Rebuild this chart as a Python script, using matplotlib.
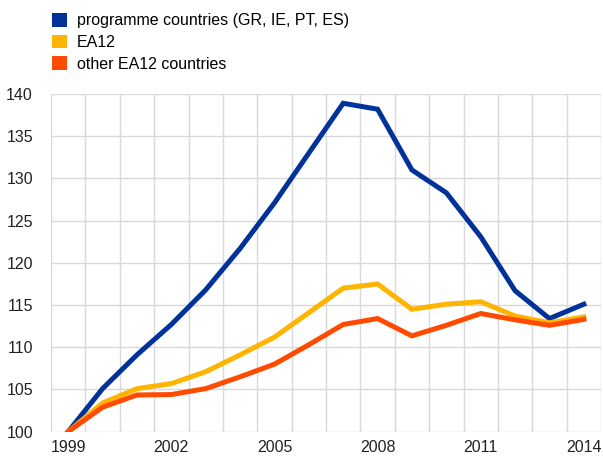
import matplotlib
matplotlib.use("Agg")
import matplotlib.pyplot as plt
from matplotlib.patches import Patch
import numpy as np

plt.rcParams['font.family'] = ['Liberation Sans', 'DejaVu Sans']

years = list(range(1999, 2015))
programme = [100.0, 105.1, 109.1, 112.7, 116.8, 121.7, 127.1, 133.0, 138.9, 138.2,
             131.0, 128.3, 123.1, 116.7, 113.4, 115.1]
ea12 = [100.0, 103.4, 105.1, 105.7, 107.1, 109.1, 111.2, 114.1, 117.0, 117.5,
        114.5, 115.1, 115.4, 113.7, 112.9, 113.6]
other = [100.0, 102.9, 104.35, 104.4, 105.1, 106.5, 108.0, 110.3, 112.7, 113.4,
         111.35, 112.6, 114.0, 113.25, 112.6, 113.3]

series_names = ["programme countries (GR, IE, PT, ES)", "EA12", "other EA12 countries"]
colors = ["#003299", "#FFB400", "#FF4B00"]

W, H = 603, 457
fig = plt.figure(figsize=(W / 100, H / 100), dpi=100)
ax = fig.add_axes([51 / W, 1 - 431.7 / H, 550 / W, (431.7 - 94) / H])

x = np.arange(len(years))
for vals, c in zip([programme, ea12, other], colors):
    ax.plot(x, vals, color=c, lw=3.6, solid_joinstyle='miter', zorder=3)

ax.set_xlim(-0.5, len(years) - 0.5)
ax.set_ylim(100, 140)
ax.set_yticks(np.arange(100, 141, 5))

# category boundaries form the vertical grid
ax.set_xticks(np.arange(-0.5, len(years), 1), minor=True)
label_pos = [i for i, y in enumerate(years) if (y - 1999) % 3 == 0]
ax.set_xticks(label_pos)
ax.set_xticklabels([str(years[i]) for i in label_pos])

ax.grid(False)
ax.grid(True, which='minor', axis='x', color='#d9d9d9', lw=1)
ax.grid(True, which='major', axis='y', color='#d9d9d9', lw=1)
for s in ax.spines.values():
    s.set_visible(False)
ax.tick_params(axis='both', which='both', length=0, labelsize=11.5, colors='#222222')
ax.tick_params(axis='y', pad=13)
ax.tick_params(axis='x', pad=6)

handles = [Patch(facecolor=c, edgecolor='none') for c in colors]
fig.legend(handles, series_names, loc='upper left', bbox_to_anchor=(47 / W, 1 - 8 / H),
           frameon=False, fontsize=11.5, handlelength=0.95, handleheight=0.95,
           handletextpad=0.6, labelspacing=0.4, borderaxespad=0, borderpad=0.3)

fig.savefig("out.png", dpi=100)
